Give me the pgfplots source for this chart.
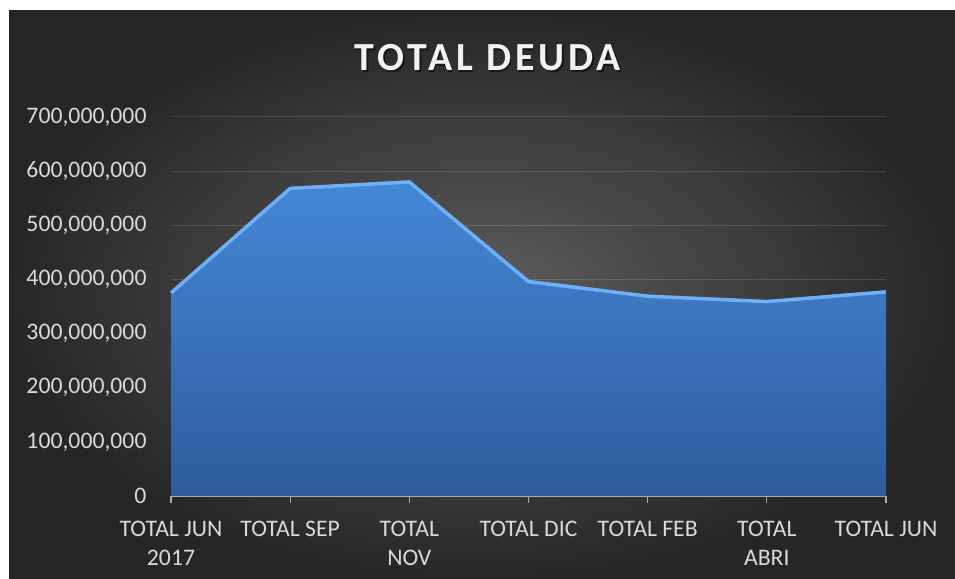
\documentclass[border=0pt]{standalone}
\usepackage{pgfplots}
\pgfplotsset{compat=1.18}
\usepackage{fontspec}
\setmainfont{Carlito}
\definecolor{bgin}{RGB}{94,94,94}
\definecolor{bgout}{RGB}{38,38,38}
\definecolor{lbl}{RGB}{217,217,217}
\definecolor{gridc}{RGB}{88,88,88}
\definecolor{axc}{RGB}{170,170,170}
\definecolor{areatop}{RGB}{68,136,214}
\definecolor{areabot}{RGB}{46,92,156}
\definecolor{edgec}{RGB}{110,175,245}
\begin{document}
\begin{tikzpicture}[x=1bp,y=1bp]
\useasboundingbox (0,0) rectangle (955,579);
\fill[white] (0,0) rectangle (955,579);
\shade[inner color=bgin, outer color=bgout] (9,0) rectangle (955,568);
\begin{axis}[
  at={(171bp,83bp)}, anchor=origin,
  scale only axis, width=715bp, height=379bp,
  xmin=0, xmax=6, ymin=0, ymax=700000000,
  axis x line*=bottom,
  x axis line style={draw=axc, line width=1.2bp, -},
  axis y line*=left,
  y axis line style={draw=none},
  xtick={0,...,6},
  xticklabels={{TOTAL JUN\\2017},{TOTAL SEP},{TOTAL\\NOV},{TOTAL DIC},{TOTAL FEB},{TOTAL\\ABRI},{TOTAL JUN}},
  ytick={0,100000000,...,700000000},
  scaled y ticks=false,
  yticklabel={\pgfmathprintnumber[fixed,precision=0,1000 sep={,},assume math mode=true]{\tick}},
  ymajorgrids, grid style={draw=white, draw opacity=0.13, line width=1bp},
  major tick length=7bp,
  xtick style={draw=axc, line width=1.2bp},
  xtick align=outside,
  ytick style={draw=none},
  tick label style={font=\fontsize{23.8}{29}\selectfont, text=lbl},
  xticklabel style={align=center, yshift=-15bp, anchor=north},
  yticklabel style={anchor=east, xshift=-21bp},
  clip=false,
]
\addplot[draw=none, top color=areatop, bottom color=areabot] coordinates {
(0,377000000) (1,571000000) (2,583000000) (3,399000000) (4,372000000) (5,362000000) (6,380000000)
} \closedcycle;
\addplot[draw=edgec, line width=3.5bp, line join=round] coordinates {
(0,375000000) (1,568000000) (2,580000000) (3,396000000) (4,369000000) (5,359000000) (6,377000000)
};
\end{axis}
\node[text=black, opacity=0.5, font=\fontsize{40}{48}\selectfont\bfseries\addfontfeature{LetterSpace=10}] at (489.5,519.5) {TOTAL DEUDA};
\node[text={rgb,255:red,242;green,242;blue,242}, font=\fontsize{40}{48}\selectfont\bfseries\addfontfeature{LetterSpace=10}] at (488,521) {TOTAL DEUDA};
\end{tikzpicture}
\end{document}
